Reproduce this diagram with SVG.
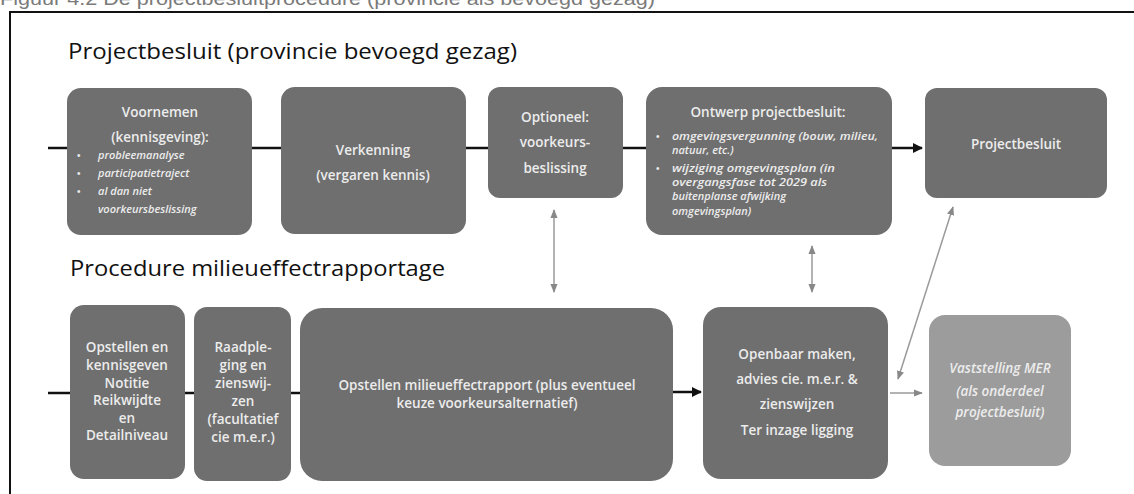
<svg xmlns="http://www.w3.org/2000/svg" width="1134" height="494" viewBox="0 0 1134 494">
<defs>
<style>
.cap{font-family:"Liberation Sans",Arial,sans-serif;font-size:18px;fill:#7a7a7a}
.title{font-family:"Open Sans","Liberation Sans",sans-serif;font-size:22px;fill:#111}
.box{fill:#6f6f6f}
.boxl{fill:#9c9c9c}
.t{font-family:"Open Sans","Liberation Sans",sans-serif;font-size:13.5px;font-weight:600;fill:#ececec;text-anchor:middle}
.ti{font-family:"Open Sans","Liberation Sans",sans-serif;font-size:11px;font-weight:600;fill:#ececec;font-style:italic}
.b{font-family:"Liberation Sans",sans-serif;font-size:10px;fill:#ececec}
.ln{stroke:#111;stroke-width:2.5;fill:none}
.gl{stroke:#9a9a9a;stroke-width:1.5;fill:none}
</style>
<marker id="ab" viewBox="0 0 10 10" refX="9" refY="5" markerWidth="4" markerHeight="4" orient="auto-start-reverse"><path d="M0,0L10,5L0,10z" fill="#111"/></marker>
<marker id="ag" viewBox="0 0 10 10" refX="9" refY="5" markerWidth="6" markerHeight="6" orient="auto-start-reverse"><path d="M0,1L10,5L0,9z" fill="#888"/></marker>
</defs>
<rect width="1134" height="494" fill="#fff"/>
<text class="cap" x="0" y="5" textLength="655" lengthAdjust="spacingAndGlyphs">Figuur 4.2 De projectbesluitprocedure (provincie als bevoegd gezag)</text>
<rect x="10" y="12" width="1140" height="500" fill="none" stroke="#111" stroke-width="2"/>
<text class="title" x="68" y="59" textLength="449" lengthAdjust="spacingAndGlyphs">Projectbesluit (provincie bevoegd gezag)</text>
<text class="title" x="70" y="276" textLength="375" lengthAdjust="spacingAndGlyphs">Procedure milieueffectrapportage</text>

<g id="connectors">
<line class="ln" x1="48" y1="148" x2="67" y2="148"/>
<line class="ln" x1="252" y1="148" x2="281" y2="148"/>
<line class="ln" x1="466" y1="148" x2="488" y2="148"/>
<line class="ln" x1="623" y1="148" x2="646" y2="148"/>
<line class="ln" x1="892" y1="148" x2="922" y2="148" marker-end="url(#ab)"/>
<line class="ln" x1="48" y1="393" x2="70" y2="393"/>
<line class="ln" x1="185" y1="393" x2="194" y2="393"/>
<line class="ln" x1="291" y1="393" x2="300" y2="393"/>
<line class="ln" x1="673" y1="392" x2="701" y2="392" marker-end="url(#ab)"/>
<line class="gl" x1="890" y1="393" x2="922" y2="393" marker-end="url(#ag)"/>
<line class="gl" x1="554" y1="210" x2="554" y2="292" marker-start="url(#ag)" marker-end="url(#ag)"/>
<line class="gl" x1="812" y1="246" x2="812" y2="292" marker-start="url(#ag)" marker-end="url(#ag)"/>
<line class="gl" x1="953" y1="207" x2="898" y2="379" marker-start="url(#ag)" marker-end="url(#ag)"/>
</g>

<g id="voornemen">
<rect class="box" x="67" y="88" width="185" height="147" rx="14"/>
<text class="t" x="160" y="117" font-size="14.5">Voornemen</text>
<text class="t" x="160" y="142" font-size="14.5">(kennisgeving):</text>
<text class="b" x="77" y="159">•</text><text class="ti" x="98" y="159" font-size="11.5">probleemanalyse</text>
<text class="b" x="77" y="177">•</text><text class="ti" x="98" y="177" font-size="11.5">participatietraject</text>
<text class="b" x="77" y="195">•</text><text class="ti" x="98" y="195" font-size="11.5">al dan niet</text>
<text class="ti" x="98" y="213" font-size="11.5">voorkeursbeslissing</text>
</g>

<g id="verkenning">
<rect class="box" x="281" y="87" width="185" height="147" rx="14"/>
<text class="t" x="373" y="155" font-size="16.5">Verkenning</text>
<text class="t" x="373" y="180" font-size="16.5">(vergaren kennis)</text>
</g>

<g id="optioneel">
<rect class="box" x="488" y="87" width="135" height="111" rx="12"/>
<text class="t" x="555" y="122" font-size="15">Optioneel:</text>
<text class="t" x="555" y="147" font-size="15">voorkeurs-</text>
<text class="t" x="555" y="173" font-size="15">beslissing</text>
</g>

<g id="ontwerp">
<rect class="box" x="646" y="87" width="246" height="148" rx="16"/>
<text class="t" x="768" y="117" font-size="14.5">Ontwerp projectbesluit:</text>
<text class="b" x="656" y="140">•</text><text class="ti" x="672" y="140" font-size="11.5" textLength="206" lengthAdjust="spacingAndGlyphs">omgevingsvergunning (bouw, milieu,</text>
<text class="ti" x="672" y="154" font-size="11.5">natuur, etc.)</text>
<text class="b" x="656" y="172">•</text><text class="ti" x="672" y="172" font-size="11.5" textLength="163" lengthAdjust="spacingAndGlyphs">wijziging omgevingsplan (in</text>
<text class="ti" x="672" y="186" font-size="11.5" textLength="155" lengthAdjust="spacingAndGlyphs">overgangsfase tot 2029 als</text>
<text class="ti" x="672" y="200" font-size="11.5">buitenplanse afwijking</text>
<text class="ti" x="672" y="215" font-size="11.5">omgevingsplan)</text>
</g>

<g id="projectbesluit">
<rect class="box" x="925" y="88" width="182" height="110" rx="12"/>
<text class="t" x="1016" y="149" font-size="14.5">Projectbesluit</text>
</g>

<g id="opstellen-notitie">
<rect class="box" x="70" y="305" width="115" height="174" rx="14"/>
<text class="t" x="127" y="352">Opstellen en</text>
<text class="t" x="127" y="370">kennisgeven</text>
<text class="t" x="127" y="388">Notitie</text>
<text class="t" x="127" y="405">Reikwijdte</text>
<text class="t" x="127" y="423">en</text>
<text class="t" x="127" y="440">Detailniveau</text>
</g>

<g id="raadpleging">
<rect class="box" x="194" y="307" width="97" height="174" rx="13"/>
<text class="t" x="243" y="352" font-size="14">Raadple-</text>
<text class="t" x="243" y="370" font-size="14">ging en</text>
<text class="t" x="243" y="388" font-size="14">zienswij-</text>
<text class="t" x="243" y="406" font-size="14">zen</text>
<text class="t" x="243" y="424" font-size="14">(facultatief</text>
<text class="t" x="243" y="442" font-size="14">cie m.e.r.)</text>
</g>

<g id="opstellen-mer">
<rect class="box" x="300" y="308" width="373" height="173" rx="22"/>
<text class="t" x="487" y="390" font-size="14">Opstellen milieueffectrapport (plus eventueel</text>
<text class="t" x="487" y="408" font-size="14">keuze voorkeursalternatief)</text>
</g>

<g id="openbaar">
<rect class="box" x="703" y="307" width="185" height="172" rx="18"/>
<text class="t" x="797" y="359" font-size="15">Openbaar maken,</text>
<text class="t" x="797" y="384" font-size="15">advies cie. m.e.r. &amp;</text>
<text class="t" x="797" y="409" font-size="15">zienswijzen</text>
<text class="t" x="797" y="435" font-size="15">Ter inzage ligging</text>
</g>

<g id="vaststelling">
<rect class="boxl" x="929" y="315" width="142" height="151" rx="16"/>
<text class="t" x="1000" y="373" font-size="15.5" font-style="italic">Vaststelling MER</text>
<text class="t" x="1000" y="396" font-size="11" font-style="italic">(als onderdeel</text>
<text class="t" x="1000" y="417" font-size="11" font-style="italic">projectbesluit)</text>
</g>
</svg>
